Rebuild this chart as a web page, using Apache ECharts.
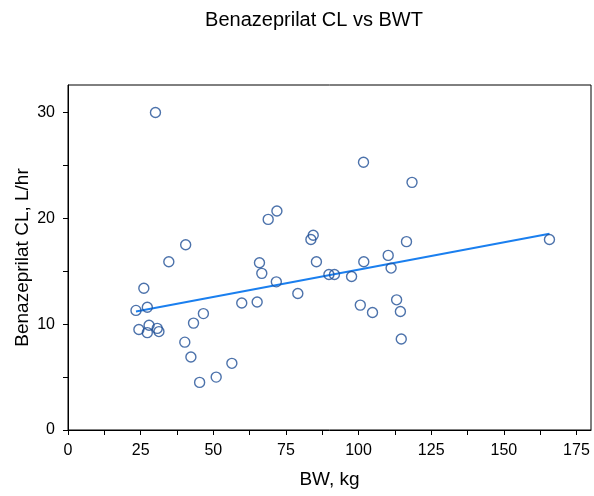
<!DOCTYPE html>
<html>
<head>
<meta charset="utf-8">
<script src="https://cdn.jsdelivr.net/npm/echarts@6/dist/echarts.min.js"></script>
<style>
  html, body { margin: 0; padding: 0; background: #fff; }
  #main { width: 594px; height: 496px; }
</style>
</head>
<body>
<div id="main"></div>
<script>
// body weight (kg) for each subject
var bw = [30.1, 34.7, 26.1, 23.4, 27.3, 27.9, 24.4, 27.3, 30.7, 31.3,
          40.2, 43.2, 46.6, 42.3, 45.3, 51.0, 56.4, 59.8, 65.1, 65.9,
          66.7, 40.5, 101.7, 118.4, 71.9, 68.9, 84.4, 83.6, 116.5, 85.5,
          101.8, 110.2, 111.2, 71.7, 89.8, 91.7, 97.6, 79.1, 100.6, 104.8,
          113.1, 114.4, 114.7, 165.7];
// benazeprilat clearance (L/hr)
var cl = [30.0, 15.9, 13.4, 11.3, 11.6, 9.9, 9.5, 9.2, 9.6, 9.3,
          8.3, 10.1, 11.0, 6.9, 4.5, 5.0, 6.3, 12.0, 12.1, 15.8,
          14.8, 17.5, 25.3, 23.4, 20.7, 19.9, 18.4, 18.0, 17.8, 15.9,
          15.9, 16.5, 15.3, 14.0, 14.7, 14.7, 14.5, 12.9, 11.8, 11.1,
          12.3, 11.2, 8.6, 18.0];
// fitted line end points
var fitX = [23.4, 165.7];
var fitY = [11.2, 18.55];

var xTicks = [0, 12.5, 25, 37.5, 50, 62.5, 75, 87.5, 100, 112.5, 125, 137.5, 150, 162.5, 175];
var xLabels = [0, 25, 50, 75, 100, 125, 150, 175];
var yTicks = [0, 5, 10, 15, 20, 25, 30];
var yLabels = [0, 10, 20, 30];

var pts = bw.map(function (v, i) { return [v, cl[i]]; });
var fit = fitX.map(function (v, i) { return [v, fitY[i]]; });

var font = 'Liberation Sans, Arial, sans-serif';
var chart = echarts.init(document.getElementById('main'));

chart.setOption({
    animation: false,
    title: {
        text: 'Benazeprilat CL vs BWT',
        left: 309,
        textAlign: 'center',
        top: 5,
        textStyle: { fontFamily: font, fontSize: 20, fontWeight: 'normal', color: '#000' }
    },
    grid: {
        left: 68, right: 3, top: 85, bottom: 66,
        show: true, borderColor: '#000', borderWidth: 1
    },
    xAxis: {
        type: 'value',
        min: 0, max: 180,
        name: 'BW, kg',
        nameLocation: 'middle',
        nameGap: 40,
        nameTextStyle: { fontFamily: font, fontSize: 19, color: '#000' },
        axisLine: { show: true, lineStyle: { color: '#000', width: 1 } },
        axisTick: { show: true, length: 5, customValues: xTicks, lineStyle: { color: '#000' } },
        axisLabel: { customValues: xLabels, fontFamily: font, fontSize: 16, color: '#000', margin: 13 },
        splitLine: { show: false }
    },
    yAxis: {
        type: 'value',
        min: 0, max: 32.6,
        name: 'Benazeprilat CL, L/hr',
        nameLocation: 'middle',
        nameGap: 36,
        nameMoveOverlap: false,
        nameTextStyle: { fontFamily: font, fontSize: 19, color: '#000' },
        axisLine: { show: true, lineStyle: { color: '#000', width: 1 } },
        axisTick: { show: true, length: 5, customValues: yTicks, lineStyle: { color: '#000' } },
        axisLabel: { customValues: yLabels, fontFamily: font, fontSize: 16, color: '#000', margin: 13 },
        splitLine: { show: false }
    },
    series: [
        {
            type: 'line',
            data: fit,
            symbol: 'none',
            lineStyle: { color: '#1a7fef', width: 2 },
            z: 2
        },
        {
            type: 'scatter',
            data: pts,
            symbol: 'circle',
            symbolSize: 10,
            itemStyle: { color: 'rgba(255,255,255,0)', borderColor: '#1f4f96', borderWidth: 1.4 },
            z: 3
        }
    ]
});
</script>
</body>
</html>
